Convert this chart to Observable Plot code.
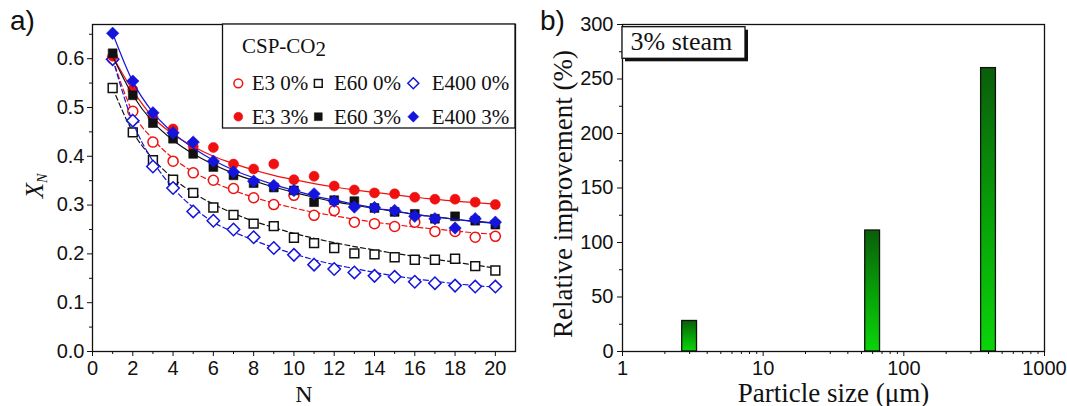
<!DOCTYPE html>
<html>
<head>
<meta charset="utf-8">
<script src="https://cdn.jsdelivr.net/npm/d3@7"></script>
<script src="https://cdn.jsdelivr.net/npm/@observablehq/plot@0.6"></script>
<style>
html, body { margin: 0; padding: 0; background: #fff; }
#wrap { position: relative; width: 1067px; height: 406px; overflow: hidden; background: #fff; }
#panelA, #panelB { position: absolute; top: 0; }
#panelA { left: 0; }
#panelB { left: 540px; }
svg { overflow: visible; }
</style>
</head>
<body>
<div id="wrap"><div id="panelA"></div><div id="panelB"></div></div>
<script>
// ---------- Data: panel a) ----------
const N = [1, 2, 3, 4, 5, 6, 7, 8, 9, 10, 11, 12, 13, 14, 15, 16, 17, 18, 19, 20];

// measured conversion X_N (symbols)
const e3_0   = [0.600, 0.492, 0.429, 0.390, 0.366, 0.351, 0.334, 0.315, 0.301, 0.320, 0.279, 0.289, 0.265, 0.262, 0.256, 0.265, 0.246, 0.246, 0.234, 0.236];
const e60_0  = [0.540, 0.449, 0.392, 0.352, 0.325, 0.295, 0.280, 0.262, 0.257, 0.233, 0.222, 0.212, 0.201, 0.199, 0.193, 0.188, 0.188, 0.190, 0.175, 0.166];
const e400_0 = [0.599, 0.473, 0.379, 0.335, 0.287, 0.268, 0.250, 0.234, 0.212, 0.198, 0.178, 0.169, 0.162, 0.155, 0.153, 0.143, 0.140, 0.135, 0.133, 0.133];
const e3_3   = [0.605, 0.537, 0.480, 0.456, 0.420, 0.418, 0.384, 0.374, 0.384, 0.352, 0.359, 0.339, 0.331, 0.325, 0.323, 0.316, 0.312, 0.312, 0.306, 0.301];
const e60_3  = [0.611, 0.525, 0.468, 0.436, 0.405, 0.378, 0.361, 0.345, 0.336, 0.330, 0.306, 0.310, 0.308, 0.294, 0.286, 0.282, 0.272, 0.277, 0.268, 0.260];
const e400_3 = [0.652, 0.554, 0.489, 0.448, 0.429, 0.390, 0.368, 0.349, 0.340, 0.330, 0.323, 0.308, 0.296, 0.295, 0.289, 0.277, 0.272, 0.253, 0.272, 0.265];

// fitted curves (lines) at each N
const fit_e3_0   = [0.600, 0.490, 0.435, 0.396, 0.368, 0.347, 0.330, 0.316, 0.304, 0.294, 0.285, 0.278, 0.271, 0.265, 0.260, 0.255, 0.251, 0.247, 0.243, 0.240];
const fit_e60_0  = [0.540, 0.450, 0.395, 0.355, 0.325, 0.302, 0.283, 0.267, 0.254, 0.242, 0.232, 0.223, 0.215, 0.208, 0.201, 0.195, 0.189, 0.183, 0.177, 0.171];
const fit_e400_0 = [0.600, 0.470, 0.390, 0.335, 0.295, 0.265, 0.245, 0.228, 0.213, 0.200, 0.188, 0.178, 0.170, 0.162, 0.155, 0.149, 0.144, 0.139, 0.135, 0.132];
const fit_e3_3   = [0.605, 0.535, 0.480, 0.445, 0.420, 0.400, 0.385, 0.372, 0.361, 0.352, 0.344, 0.337, 0.331, 0.326, 0.321, 0.316, 0.312, 0.308, 0.305, 0.302];
const fit_e60_3  = [0.605, 0.525, 0.470, 0.433, 0.405, 0.383, 0.365, 0.350, 0.337, 0.326, 0.316, 0.307, 0.300, 0.293, 0.287, 0.281, 0.276, 0.271, 0.267, 0.263];
const fit_e400_3 = [0.652, 0.553, 0.490, 0.448, 0.417, 0.392, 0.372, 0.356, 0.342, 0.330, 0.319, 0.310, 0.302, 0.294, 0.288, 0.281, 0.276, 0.271, 0.266, 0.262];

const seriesNames = ["E3 0%", "E60 0%", "E400 0%", "E3 3%", "E60 3%", "E400 3%"];
const xTicksA = [0, 2, 4, 6, 8, 10, 12, 14, 16, 18, 20];
const xMinorA = [1, 3, 5, 7, 9, 11, 13, 15, 17, 19];
const yTicksA = [0, 0.1, 0.2, 0.3, 0.4, 0.5, 0.6];
const yMinorA = [0.05, 0.15, 0.25, 0.35, 0.45, 0.55, 0.65];

// ---------- Data: panel b) ----------
const particleSize = [3, 60, 400];
const improvement = [28, 111, 260];
const xTicksB = [1, 10, 100, 1000];
const xMinorB = [2, 3, 4, 5, 6, 7, 8, 9, 20, 30, 40, 50, 60, 70, 80, 90, 200, 300, 400, 500, 600, 700, 800, 900];
const yTicksB = [0, 50, 100, 150, 200, 250, 300];
const yMinorB = [25, 75, 125, 175, 225, 275];

// ---------- Styles ----------
const RED = "#f01010", BLACK = "#111111", BLUE = "#1414dc";
const serif = "'Liberation Serif','Times New Roman',serif";
const sans = "'Liberation Sans',Arial,sans-serif";
const noLabel = () => "";
const symR = {circle: 5, square: 5, diamond2: 5.6};

const series = [
  {name: seriesNames[0], v: e3_0,   fit: fit_e3_0,   color: RED,   symbol: "circle",   filled: false},
  {name: seriesNames[1], v: e60_0,  fit: fit_e60_0,  color: BLACK, symbol: "square",   filled: false},
  {name: seriesNames[2], v: e400_0, fit: fit_e400_0, color: BLUE,  symbol: "diamond2", filled: false},
  {name: seriesNames[3], v: e3_3,   fit: fit_e3_3,   color: RED,   symbol: "circle",   filled: true},
  {name: seriesNames[4], v: e60_3,  fit: fit_e60_3,  color: BLACK, symbol: "square",   filled: true},
  {name: seriesNames[5], v: e400_3, fit: fit_e400_3, color: BLUE,  symbol: "diamond2", filled: true}
];

const seriesMarks = series.flatMap(s => {
  const d = N.map((n, i) => ({N: n, v: s.v[i], fit: s.fit[i]}));
  return [
    Plot.line(d, {x: "N", y: "fit", stroke: s.color, strokeWidth: 1.2,
      strokeDasharray: s.filled ? undefined : "5,3", curve: "monotone-x"}),
    Plot.dot(d, {x: "N", y: "v", symbol: s.symbol, r: symR[s.symbol],
      fill: s.filled ? s.color : "white", stroke: s.color, strokeWidth: s.filled ? 0.6 : 1.5})
  ];
});

const left = Plot.plot({
  width: 540, height: 406,
  marginLeft: 92, marginRight: 25, marginTop: 24, marginBottom: 55,
  style: {fontFamily: sans, fontSize: "20px", color: BLACK, background: "transparent", overflow: "visible"},
  x: {domain: [0, 21]},
  y: {domain: [0, 0.67]},
  marks: [
    Plot.axisX({ticks: xTicksA, tickSize: 5, tickPadding: 4, fontSize: 20, label: null, tickFormat: d => String(d)}),
    Plot.axisX({ticks: xMinorA, tickSize: 3, tickFormat: noLabel, label: null}),
    Plot.axisY({ticks: yTicksA, tickSize: 5, tickPadding: 3, fontSize: 20, label: null, tickFormat: d => d.toFixed(1)}),
    Plot.axisY({ticks: yMinorA, tickSize: 3, tickFormat: noLabel, label: null}),
    ...seriesMarks,
    Plot.frame({stroke: BLACK, strokeWidth: 1.3}),
    Plot.text(["N"], {text: d => d, frameAnchor: "bottom", textAnchor: "middle", dy: 50, lineAnchor: "bottom",
      fontFamily: serif, fontSize: 24, fill: BLACK})
  ]
});
document.getElementById("panelA").appendChild(left);

// decorations on panel a
{
  const svg = d3.select(left);
  svg.append("text").attr("x", 10).attr("y", 30).attr("text-anchor", "start")
    .attr("font-family", sans).attr("font-size", 28).attr("fill", BLACK).text("a)");

  const yl = svg.append("text")
    .attr("transform", "translate(43,186) rotate(-90)")
    .attr("text-anchor", "middle").attr("font-family", serif).attr("font-size", 25).attr("fill", BLACK);
  yl.append("tspan").attr("font-style", "italic").text("X");
  yl.append("tspan").attr("font-style", "italic").attr("font-size", 14).attr("dy", 4).text("N");

  // legend box
  const g = svg.append("g").attr("text-anchor", "start");
  g.append("rect").attr("x", 222.5).attr("y", 24).attr("width", 515 - 222.5).attr("height", 104)
    .attr("fill", "white").attr("stroke", BLACK).attr("stroke-width", 1.3);
  const title = g.append("text").attr("x", 242).attr("y", 53).attr("text-anchor", "start")
    .attr("font-family", serif).attr("font-size", 21).attr("fill", BLACK);
  title.append("tspan").text("CSP-CO");
  title.append("tspan").attr("dy", 3).text("2");

  const symX = [238.3, 318.3, 413.3];
  const txtX = [251.7, 334, 431.7];
  const rowY = [83.3, 116.7];
  const symMap = {circle: d3.symbolCircle, square: d3.symbolSquare, diamond2: d3.symbolDiamond2};
  series.forEach((s, i) => {
    const col = i % 3, row = Math.floor(i / 3);
    const rr = symR[s.symbol] * 0.88;
    g.append("path")
      .attr("transform", `translate(${symX[col]},${rowY[row]})`)
      .attr("d", d3.symbol(symMap[s.symbol], Math.PI * rr * rr)())
      .attr("fill", s.filled ? s.color : "white")
      .attr("stroke", s.color).attr("stroke-width", s.filled ? 0.6 : 1.5);
    g.append("text").attr("x", txtX[col]).attr("y", rowY[row] + 7).attr("text-anchor", "start")
      .attr("font-family", serif).attr("font-size", 21).attr("fill", BLACK).text(s.name);
  });
}

// ---------- Panel b ----------
const bars = particleSize.map((s, i) => ({size: s, imp: improvement[i]}));

const right = Plot.plot({
  width: 527, height: 406,
  marginLeft: 82, marginRight: 23, marginTop: 24, marginBottom: 55,
  style: {fontFamily: sans, fontSize: "20px", color: BLACK, background: "transparent", overflow: "visible"},
  x: {type: "log", domain: [1, 1000]},
  y: {domain: [0, 300]},
  marks: [
    Plot.axisX({ticks: xTicksB, tickSize: 5, tickPadding: 4, fontSize: 20, label: null, tickFormat: d => String(d)}),
    Plot.axisX({ticks: xMinorB, tickSize: 3, tickFormat: noLabel, label: null}),
    Plot.axisY({ticks: yTicksB, tickSize: 5, tickPadding: 4, fontSize: 20, label: null, tickFormat: d => String(d)}),
    Plot.axisY({ticks: yMinorB, tickSize: 3, tickFormat: noLabel, label: null}),
    Plot.rect(bars, {x1: "size", x2: "size", y1: 0, y2: "imp", insetLeft: -7.4, insetRight: -7.4,
      fill: "url(#barGrad)", stroke: BLACK, strokeWidth: 1.3}),
    Plot.frame({stroke: BLACK, strokeWidth: 1.3}),
    Plot.text(["Particle size (μm)"], {text: d => d, frameAnchor: "bottom", textAnchor: "middle", dy: 50, lineAnchor: "bottom",
      fontFamily: serif, fontSize: 27, fill: BLACK}),
    Plot.text(["Relative improvement (%)"], {text: d => d, frameAnchor: "left", textAnchor: "middle", lineAnchor: "middle",
      rotate: -90, dx: -59, dy: 6, fontFamily: serif, fontSize: 27, fill: BLACK})
  ]
});
document.getElementById("panelB").appendChild(right);

{
  const svg = d3.select(right);
  const defs = svg.insert("defs", ":first-child");
  const lg = defs.append("linearGradient").attr("id", "barGrad")
    .attr("x1", 0).attr("y1", 0).attr("x2", 0).attr("y2", 1);
  lg.append("stop").attr("offset", "0%").attr("stop-color", "#0a5e0a");
  lg.append("stop").attr("offset", "55%").attr("stop-color", "#08a408");
  lg.append("stop").attr("offset", "100%").attr("stop-color", "#0ad40a");

  svg.append("text").attr("x", 0).attr("y", 30).attr("text-anchor", "start")
    .attr("font-family", sans).attr("font-size", 28).attr("fill", BLACK).text("b)");

  const bx = 82, by = 26.7, bw = 123, bh = 31.6;
  svg.append("rect").attr("x", bx + 3).attr("y", by + 3).attr("width", bw).attr("height", bh).attr("fill", "#111");
  svg.append("rect").attr("x", bx).attr("y", by).attr("width", bw).attr("height", bh)
    .attr("fill", "white").attr("stroke", BLACK).attr("stroke-width", 1.3);
  svg.append("text").attr("x", bx + 8.5).attr("y", by + 23.5).attr("text-anchor", "start")
    .attr("font-family", serif).attr("font-size", 26).attr("fill", BLACK).text("3% steam");
}
</script>
</body>
</html>
